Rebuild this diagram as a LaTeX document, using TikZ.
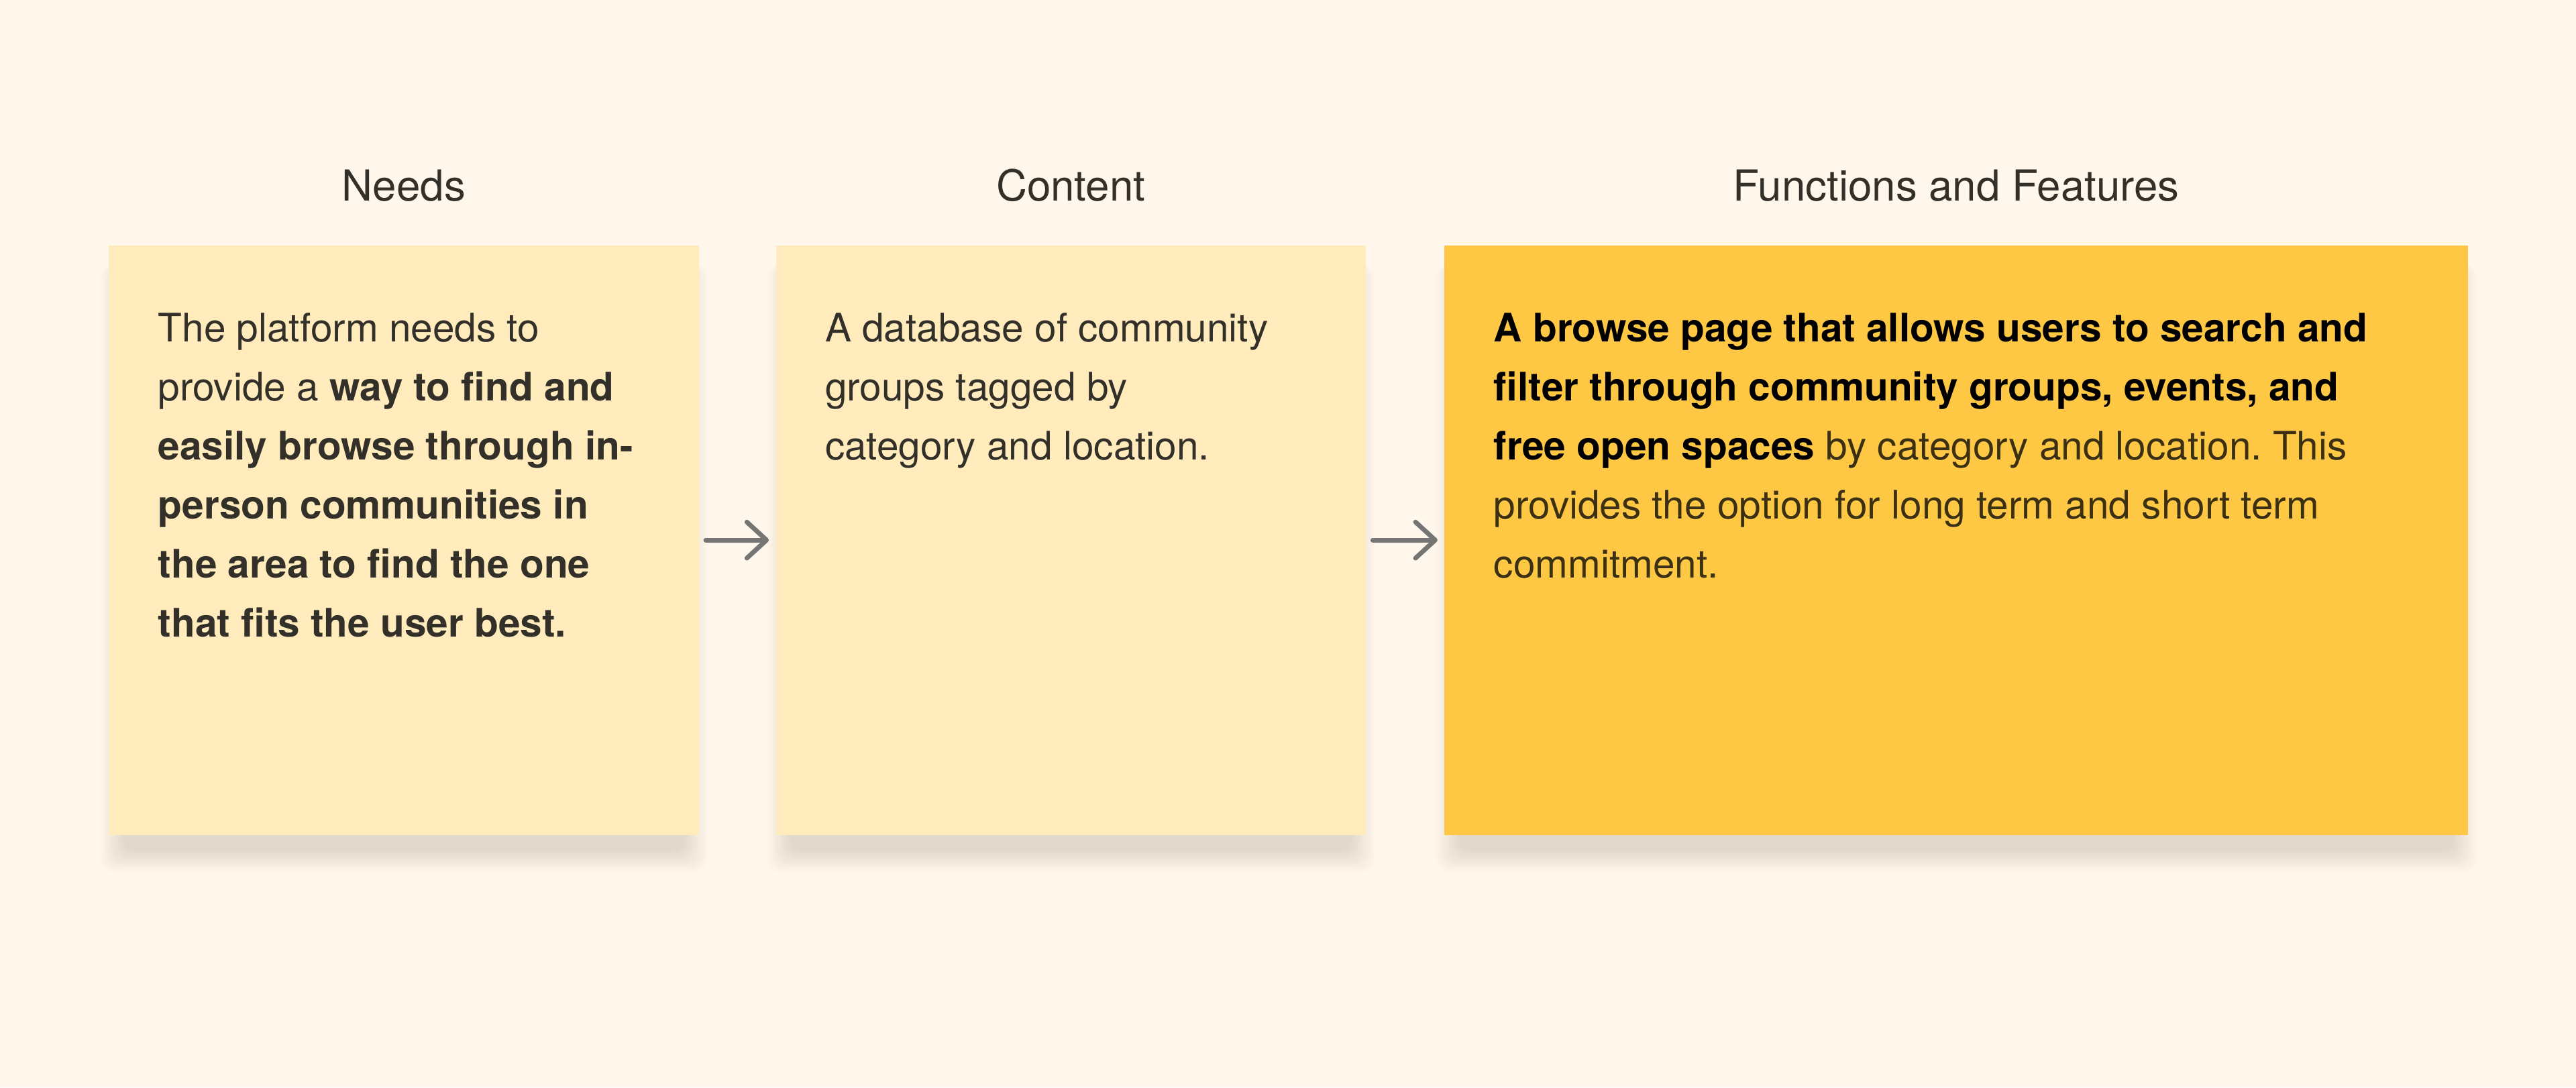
\documentclass[tikz,border=0pt]{standalone}
\usepackage{fontspec}
\setmainfont{TeX Gyre Heros}
\usepackage{xcolor}
\usetikzlibrary{calc, positioning, arrows.meta, backgrounds}
\frenchspacing

\definecolor{paper}{HTML}{FFF7EB}
\definecolor{notepale}{HTML}{FFEBBB}
\definecolor{notegold}{HTML}{FFC844}
\definecolor{inkdark}{HTML}{33302A}
\definecolor{inkbrown}{HTML}{3B3012}
\definecolor{arrowgray}{HTML}{757575}
\definecolor{shadowink}{HTML}{4A3A20}

\tikzset{
    note/.style={draw=none, inner sep=0pt, anchor=north west, minimum height=8.975cm},
    notetext/.style={anchor=north west, inner sep=0pt, align=left, text=inkdark,
        font=\fontsize{17}{25.6}\selectfont},
    heading/.style={anchor=base, inner sep=0pt, text=inkdark, font=\fontsize{18.5}{22}\selectfont},
    flow/.style={line width=2pt, arrowgray, line cap=round,
        -{Straight Barb[length=0.3cm, width=0.55cm, round]},
        shorten <=0.1cm, shorten >=0.1cm},
}

\begin{document}
\begin{tikzpicture}
    \useasboundingbox (0,0) rectangle (39.2,16.55);

    % Notas
    \node[note, fill=notepale, minimum width=8.975cm] (needs) at (1.65,12.825) {};
    \node[note, fill=notepale, minimum width=8.975cm] (content) at (11.8,12.825) {};
    \node[note, fill=notegold, minimum width=15.575cm] (features) at (21.975,12.825) {};

    % Fundo e sombras
    \begin{scope}[on background layer]
        \fill[paper] (0,0) rectangle (39.2,16.55);
        \foreach \card in {needs,content,features} {
            \foreach \r in {0.025,0.05,...,0.4} {
                \fill[shadowink, opacity=0.009, rounded corners=0.2cm]
                    ($(\card.south west)+({0.25-\r},{-0.22-0.9*\r})$) rectangle ($(\card.north east)+({\r-0.25},-0.3)$);
            }
        }
    \end{scope}

    % Titulos
    \node[heading] (needs-title) at ($(needs.north)+(0,0.665)$) {Needs};
    \node[heading] (content-title) at ($(content.north)+(0,0.665)$) {Content};
    \node[heading] (features-title) at ($(features.north)+(0,0.665)$) {Functions and Features};

    % Textos
    \node[notetext] (needs-text) at ($(needs.north west)+(0.75,-1.03)$)
        {The platform needs to\\
         provide a \textbf{way to find and}\\
         \textbf{easily browse through in-}\\
         \textbf{person communities in}\\
         \textbf{the area to find the one}\\
         \textbf{that fits the user best.}};
    \node[notetext] (content-text) at ($(content.north west)+(0.75,-1.03)$)
        {A database of community\\
         groups tagged by\\
         category and location.};
    \node[notetext, text=inkbrown] (features-text) at ($(features.north west)+(0.75,-1.03)$)
        {\textcolor{black}{\textbf{A browse page that allows users to search and}}\\
         \textcolor{black}{\textbf{filter through community groups, events, and}}\\
         \textcolor{black}{\textbf{free open spaces}} by category and location. This\\
         provides the option for long term and short term\\
         commitment.};

    % Setas
    \draw[flow] (needs.east) -- (content.west);
    \draw[flow] (content.east) -- (features.west);
\end{tikzpicture}
\end{document}
